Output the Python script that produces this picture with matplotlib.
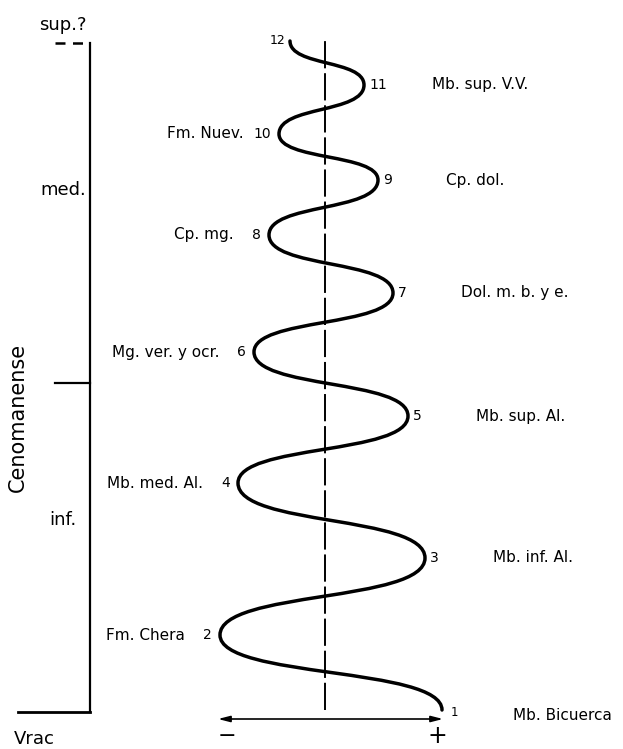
import matplotlib
matplotlib.use("Agg")
import matplotlib.pyplot as plt
from matplotlib.path import Path
from matplotlib.patches import PathPatch

# turning points of the curve: number, relative Vrac (0 = dashed mean line), level above base
point_num = [1, 2, 3, 4, 5, 6, 7, 8, 9, 10, 11, 12]
vrac = [117, -105, 100, -87, 83, -71, 68, -56, 53, -46, 39, -35]
level = [2, 77, 154, 229, 296, 360, 419, 477, 532, 578, 627, 671]
unit_names = ["Mb. Bicuerca", "Fm. Chera", "Mb. inf. Al.", "Mb. med. Al.",
              "Mb. sup. Al.", "Mg. ver. y ocr.", "Dol. m. b. y e.", "Cp. mg.",
              "Cp. dol.", "Fm. Nuev.", "Mb. sup. V.V.", ""]

# stage column
stage_bounds = [0, 329, 669]
stage_names = ["inf.", "med.", "sup.?"]
stage_label_level = [192, 522, 687]

BRACKET_X = -235
C = 0.58  # bezier handle fraction

fig = plt.figure(figsize=(6.23, 7.49), dpi=100)
ax = fig.add_axes([0, 0, 1, 1])
ax.set_xlim(-325, 298)
ax.set_ylim(-37, 712)
ax.axis("off")

# oscillating curve, smooth between the turning points
verts = [(vrac[0], level[0])]
codes = [Path.MOVETO]
for i in range(len(vrac) - 1):
    dy = level[i + 1] - level[i]
    verts += [(vrac[i], level[i] + C * dy),
              (vrac[i + 1], level[i + 1] - C * dy),
              (vrac[i + 1], level[i + 1])]
    codes += [Path.CURVE4] * 3
ax.add_patch(PathPatch(Path(verts, codes), facecolor="none", edgecolor="black",
                       lw=2.5, capstyle="round", joinstyle="round"))

# mean line
ax.plot([0, 0], [level[0], level[-1]], color="black", lw=1.4, dashes=(14, 2.5))

# Vrac arrow
ax.annotate("", xy=(118, -7), xytext=(-107, -7),
            arrowprops=dict(arrowstyle="<|-|>,head_length=0.7,head_width=0.18",
                            color="black", lw=1.2, shrinkA=0, shrinkB=0))
ax.text(-98, -24, "−", fontsize=16, ha="center", va="center")
ax.text(112, -24, "+", fontsize=17, ha="center", va="center")
ax.text(-291, -27, "Vrac", fontsize=13, ha="center", va="center")

# numbers and unit names
for n, x, y, name in zip(point_num, vrac, level, unit_names):
    if n == 1:
        ax.text(x + 9, y - 2, str(n), fontsize=8.5, ha="left", va="center")
        ax.text(x + 71, y - 6, name, fontsize=11, ha="left", va="center")
    elif n == 12:
        ax.text(x - 5, y + 1, str(n), fontsize=9, ha="right", va="center")
    elif n % 2 == 1:
        ax.text(x + 5, y, str(n), fontsize=10, ha="left", va="center")
        ax.text(x + 68, y, name, fontsize=11, ha="left", va="center")
    else:
        ax.text(x - 8, y, str(n), fontsize=10, ha="right", va="center")
        ax.text(x - 35, y, name, fontsize=11, ha="right", va="center")

# stratigraphic bracket
ax.plot([BRACKET_X, BRACKET_X], [stage_bounds[0], stage_bounds[-1]], color="black", lw=1.6)
ax.plot([-307, BRACKET_X], [stage_bounds[0], stage_bounds[0]], color="black", lw=2)
ax.plot([-270, BRACKET_X], [stage_bounds[1], stage_bounds[1]], color="black", lw=1.6)
ax.plot([-270, BRACKET_X], [stage_bounds[2], stage_bounds[2]], color="black", lw=1.8,
        dashes=(4, 3))
for name, y in zip(stage_names, stage_label_level):
    ax.text(-262, y, name, fontsize=13, ha="center", va="center")
ax.text(-307, 295, "Cenomanense", fontsize=15, rotation=90, ha="center", va="center")

fig.savefig("out.png", dpi=100)
